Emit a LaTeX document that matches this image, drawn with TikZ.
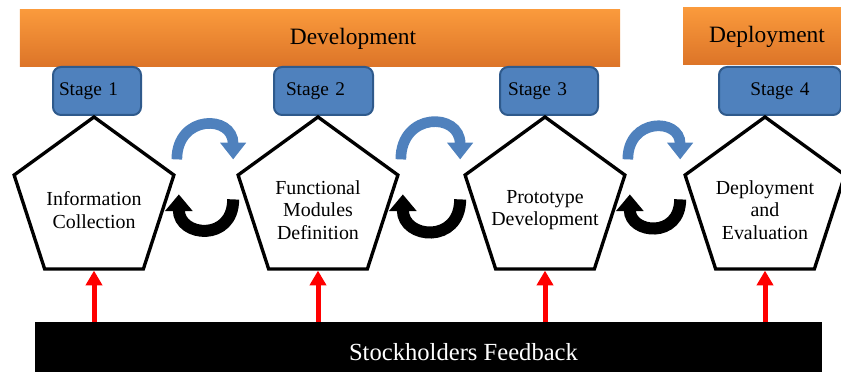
\documentclass[tikz,border=0pt]{standalone}
\usepackage{fontspec}
\setmainfont{Liberation Serif}
\definecolor{lcOrangeHi}{HTML}{FA9A3C}
\definecolor{lcOrangeLo}{HTML}{DC7428}
\definecolor{lcBlue}{HTML}{4F81BD}
\definecolor{lcBlueEdge}{HTML}{2F5A8C}
\definecolor{lcRed}{HTML}{FF0000}
\usetikzlibrary{arrows.meta,shapes.geometric}

\begin{document}
\begin{tikzpicture}[
  x=0.3mm,y=0.3mm,
  phase/.style={top color=lcOrangeHi,bottom color=lcOrangeLo,minimum height=17.1mm,
                inner sep=0pt,font=\fontsize{20}{24}\selectfont},
  phasetxt/.style={font=\fontsize{20}{24}\selectfont},
  stage/.style={draw=lcBlueEdge,line width=0.6mm,fill=lcBlue,rounded corners=2.4mm,
                minimum height=14.4mm,anchor=west,align=left,inner xsep=1.8mm,
                font=\fontsize{16.5}{19}\selectfont},
  penta/.style={regular polygon,regular polygon sides=5,draw,line width=1mm,fill=white,
                minimum size=50.4mm,inner sep=0pt},
  ptxt/.style={font=\fontsize{17}{19}\selectfont,align=center,yshift=-2.7mm},
  feedbar/.style={fill=black,minimum width=236.1mm,minimum height=18mm,inner sep=0pt},
  feedtxt/.style={text=white,font=\fontsize{21}{24}\selectfont,xshift=10.5mm},
  feed/.style={draw=lcRed,line width=1.5mm,-{Triangle[width=4.8mm,length=4.4mm]}},
  fwd/.style={draw=lcBlue,line width=3.2mm,-{Triangle[width=7.5mm,length=5mm]}},
  back/.style={draw=black,line width=3.6mm,-{Triangle[width=8mm,length=5mm]}}
]
\clip (0,0) rectangle (841,372);

% phases on top
\node[phase,minimum width=180mm,
      label={[phasetxt,xshift=9.9mm]center:Development}] (dev) at (320,333.5) {};
\node[phase,minimum width=50.4mm] (dep) at (767,335.5) {Deployment};

% stage tags
\node[stage,text width=22.8mm] (s1) at (52,281) {Stage 1};
\node[stage,text width=22.5mm,inner xsep=3.6mm] (s2) at (273,281) {Stage 2};
\node[stage,text width=24.6mm,inner xsep=2.4mm] (s3) at (499,281) {Stage 3};
\node[stage,text width=33mm,align=center] (s4) at (718,281) {Stage 4};

% the four steps
\node[penta,label={[ptxt]center:Information\\Collection}] (p1) at (94,171) {};
\node[penta,label={[ptxt]center:Functional\\Modules\\Definition}] (p2) at (318,171) {};
\node[penta,label={[ptxt]center:Prototype\\Development}] (p3) at (545,171) {};
\node[penta,label={[ptxt]center:Deployment\\and\\Evaluation}] (p4) at (765,171) {};

% forward / backward loops between steps
\draw[fwd] ([shift={(1,15)}]p1.corner 5) to[out=90,in=90,looseness=2.05]
  ([shift={(-3,15)}]p2.corner 2);
\draw[back] ([shift={(-3,-25)}]p2.corner 2) to[out=-90,in=-90,looseness=2]
  ([shift={(3,-20)}]p1.corner 5);

\draw[fwd] ([shift={(1,15)}]p2.corner 5) to[out=90,in=90,looseness=2.05]
  ([shift={(-3,15)}]p3.corner 2);
\draw[back] ([shift={(-3,-25)}]p3.corner 2) to[out=-90,in=-90,looseness=2]
  ([shift={(3,-20)}]p2.corner 5);

\draw[fwd] ([shift={(1,15)}]p3.corner 5) to[out=90,in=90,looseness=2.05]
  ([shift={(-3,15)}]p4.corner 2);
\draw[back] ([shift={(-3,-25)}]p4.corner 2) to[out=-90,in=-90,looseness=2]
  ([shift={(3,-20)}]p3.corner 5);

% feedback
\node[feedbar,label={[feedtxt]center:Stockholders Feedback}] (fb) at (428.5,20) {};
\draw[feed] (p1.south |- fb.north) -- (p1.south);
\draw[feed] (p2.south |- fb.north) -- (p2.south);
\draw[feed] (p3.south |- fb.north) -- (p3.south);
\draw[feed] (p4.south |- fb.north) -- (p4.south);
\end{tikzpicture}
\end{document}
